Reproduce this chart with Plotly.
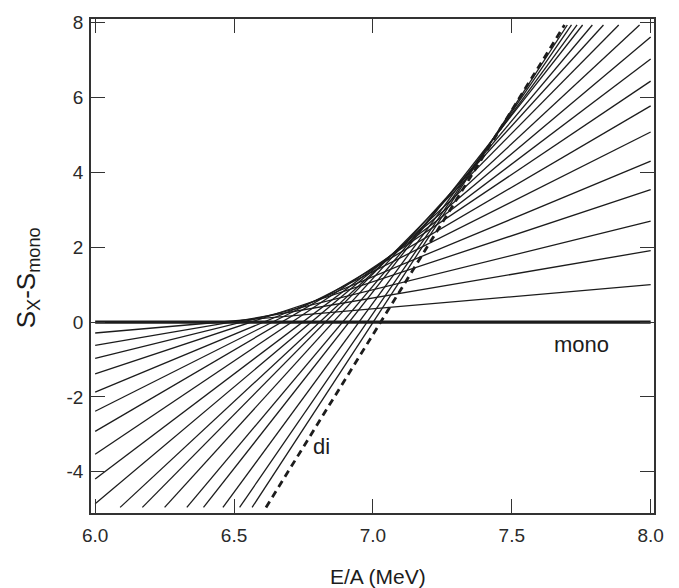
import plotly.graph_objects as go

# ---- data ----
# fan lines that start on the left edge (E/A = 6.0) and end on the right edge (E/A = 8.0)
edge_left_y = [-0.29, -0.62, -0.97, -1.38, -1.87, -2.38, -2.92, -3.53, -4.19, -4.85]
edge_right_y = [1.00, 1.91, 2.70, 3.54, 4.30, 5.08, 5.78, 6.44, 7.03, 7.62]
edge_x0 = 6.0
edge_x1 = 8.0

# steep fan lines that start at the bottom (y = -4.95) and end at the top (y = 7.94)
steep_bottom_x = [6.09, 6.17, 6.25, 6.33, 6.39, 6.46, 6.52, 6.565]
steep_top_x = [7.96, 7.885, 7.83, 7.79, 7.755, 7.735, 7.715, 7.70]
steep_y0 = -4.95
steep_y1 = 7.94

# "di" dashed line and "mono" reference line
di_x = [6.615, 7.69]
di_y = [-4.95, 7.94]
mono_x = [6.0, 8.0]
mono_y = [0.0, 0.0]

x_ticks = [6.0, 6.5, 7.0, 7.5, 8.0]
x_ticklabels = ["6.0", "6.5", "7.0", "7.5", "8.0"]
y_ticks = [-4, -2, 0, 2, 4, 6, 8]
y_ticklabels = ["-4", "-2", "0", "2", "4", "6", "8"]

INK = "#1c1c1c"
FONT = "Liberation Sans, Arial, sans-serif"

fig = go.Figure()

for yl, yr in zip(edge_left_y, edge_right_y):
    fig.add_trace(go.Scatter(x=[edge_x0, edge_x1], y=[yl, yr], mode="lines",
                             line=dict(color=INK, width=1.3), hoverinfo="skip"))

for xb, xt in zip(steep_bottom_x, steep_top_x):
    fig.add_trace(go.Scatter(x=[xb, xt], y=[steep_y0, steep_y1], mode="lines",
                             line=dict(color=INK, width=1.3), hoverinfo="skip"))

fig.add_trace(go.Scatter(x=mono_x, y=mono_y, mode="lines",
                         line=dict(color=INK, width=3.2), hoverinfo="skip"))
fig.add_trace(go.Scatter(x=di_x, y=di_y, mode="lines",
                         line=dict(color=INK, width=2.8, dash="7px,5px"), hoverinfo="skip"))

fig.add_annotation(x=7.75, y=-0.59, text="mono", showarrow=False,
                   font=dict(family=FONT, size=22, color=INK))
fig.add_annotation(x=6.815, y=-3.31, text="di", showarrow=False,
                   font=dict(family=FONT, size=22, color=INK))

# axis titles
fig.add_annotation(x=0.51, y=0, xref="paper", yref="paper", yshift=-63,
                   xanchor="center", yanchor="middle",
                   text="E/A (MeV)", showarrow=False,
                   font=dict(family=FONT, size=21, color=INK))
fig.add_annotation(x=0, y=0.475, xref="paper", yref="paper", xshift=-64,
                   xanchor="center", yanchor="middle",
                   text="S<sub>X</sub>-S<sub>mono</sub>", textangle=-90, showarrow=False,
                   font=dict(family=FONT, size=26, color=INK))

axis_common = dict(showgrid=False, zeroline=False, showline=True, linecolor="#333333",
                   linewidth=1.6, mirror="ticks", ticks="inside", ticklen=14,
                   tickwidth=1.4, tickcolor="#333333", ticklabeloverflow="allow",
                   tickfont=dict(family=FONT, size=19, color="#2a2a2a"))

fig.update_xaxes(range=[5.985, 8.012], tickvals=x_ticks, ticktext=x_ticklabels,
                 ticklabelstandoff=4, **axis_common)
fig.update_yaxes(range=[-5.1, 8.1], tickvals=y_ticks, ticktext=y_ticklabels,
                 ticklabelstandoff=2, **axis_common)

# the page adds an 8 px body margin, so the figure is sized to fit the 679x588 window
fig.update_layout(width=671, height=580, showlegend=False,
                  margin=dict(l=83, r=25, t=4, b=75),
                  plot_bgcolor="white", paper_bgcolor="white")

fig.write_html("out.html")
